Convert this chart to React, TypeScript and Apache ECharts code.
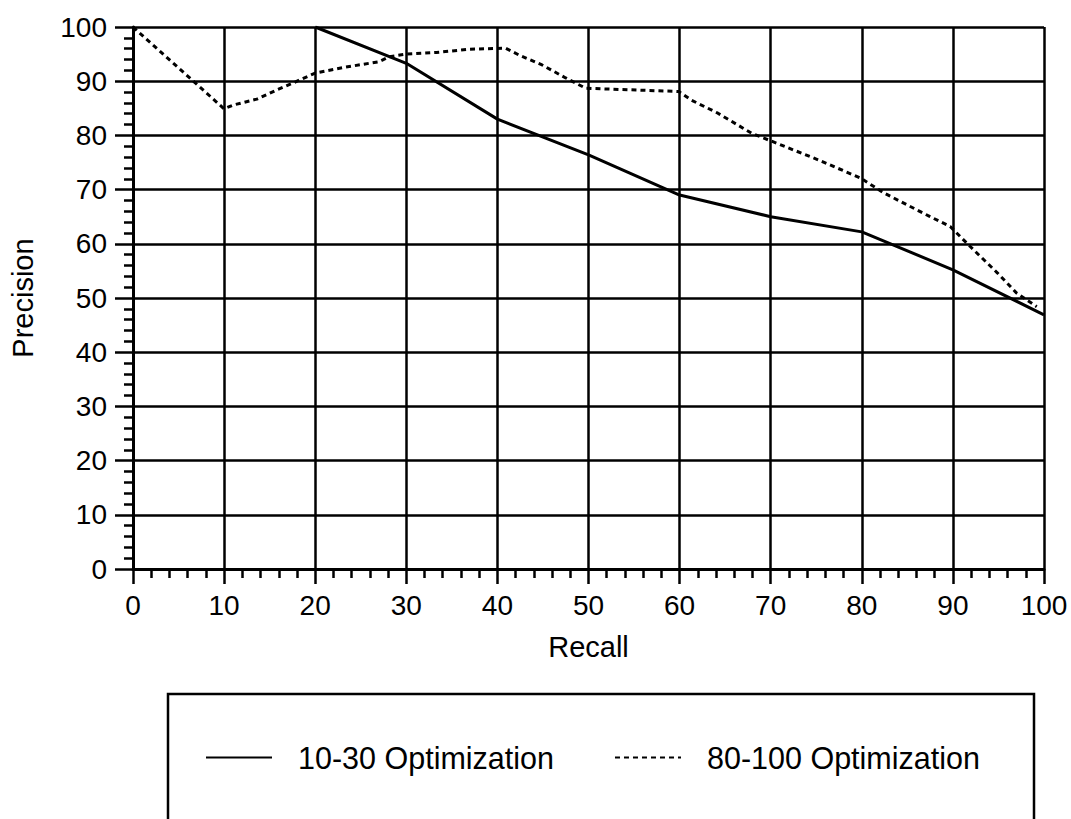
import React, { useEffect, useRef } from "react";
import * as echarts from "echarts";

const seriesNames = ["10-30 Optimization", "80-100 Optimization"];

// Recall (x), Precision (y)
const recall1030 = [20, 30, 40, 50, 60, 70, 80, 90, 100];
const precision1030 = [100, 93.3, 83, 76.4, 69, 65, 62.2, 55.2, 46.9];

const recall80100 = [
  0, 10, 11, 13.6, 15.8, 17.6, 20, 23, 27, 28.1, 30, 33.3, 36.9, 40.9, 42.4,
  44.9, 47.5, 49.7, 59.9, 61.3, 64.2, 67.9, 69.7, 75.2, 79.9, 82.4, 87.5,
  89.7, 91.9, 94.9, 97, 99.2,
];
const precision80100 = [
  100, 84.9, 85.6, 86.7, 88.4, 89.7, 91.5, 92.5, 93.6, 94.5, 95.0, 95.3, 95.9,
  96.1, 94.8, 93.0, 90.6, 88.7, 88.1, 86.5, 84.1, 80.4, 79.2, 75.5, 72.1, 69.4,
  65.0, 63.2, 59.5, 54.6, 50.9, 48.4,
];

const xTicks = { min: 0, max: 100, interval: 10 };
const yTicks = { min: 0, max: 100, interval: 10 };

const FONT = "'Liberation Sans', Arial, Helvetica, sans-serif";

export default function App() {
  const ref = useRef<HTMLDivElement>(null);

  useEffect(() => {
    if (!ref.current) return;
    const chart = echarts.init(ref.current, undefined, { renderer: "svg" });
    const axisCommon = {
      type: "value" as const,
      axisLine: { show: true, lineStyle: { color: "#000", width: 3 } },
      splitLine: { show: true, lineStyle: { color: "#000", width: 2.5 } },
      minorTick: { show: true, splitNumber: 5, length: 9, lineStyle: { color: "#000", width: 2.5 } },
      minorSplitLine: { show: false },
    };
    chart.setOption({
      animation: false,
      backgroundColor: "#fff",
      textStyle: { fontFamily: FONT, color: "#000" },
      grid: { left: 129, top: 27, width: 915, height: 542, containLabel: false },
      xAxis: {
        ...axisCommon,
        min: xTicks.min,
        max: xTicks.max,
        interval: xTicks.interval,
        axisTick: { show: true, inside: false, length: 15, lineStyle: { color: "#000", width: 2.5 } },
        axisLabel: { fontSize: 28, color: "#000", margin: 22, fontFamily: FONT },
        name: "Recall",
        nameLocation: "middle",
        nameGap: 63,
        nameTextStyle: { fontSize: 29, color: "#000", fontFamily: FONT },
      },
      yAxis: {
        ...axisCommon,
        min: yTicks.min,
        max: yTicks.max,
        interval: yTicks.interval,
        axisTick: { show: true, inside: false, length: 18, lineStyle: { color: "#000", width: 2.5 } },
        axisLabel: { fontSize: 28, color: "#000", margin: 26, fontFamily: FONT },
        name: "Precision",
        nameLocation: "middle",
        nameRotate: 90,
        nameGap: 96,
        nameTextStyle: { fontSize: 29, color: "#000", fontFamily: FONT },
      },
      legend: {
        show: true,
        left: 205,
        top: 742,
        padding: 0,
        itemWidth: 66,
        itemHeight: 14,
        itemGap: 60,
        data: seriesNames,
        itemStyle: { opacity: 0 },
        textStyle: { fontSize: 30.5, color: "#000", fontFamily: FONT, padding: [0, 0, 0, 21] },
      },
      graphic: [
        {
          type: "rect",
          shape: { x: 168, y: 694, width: 866, height: 200 },
          style: { fill: "none", stroke: "#000", lineWidth: 2.5 },
          silent: true,
        },
      ],
      series: [
        {
          name: seriesNames[0],
          type: "line",
          symbol: "none",
          data: recall1030.map((x, i) => [x, precision1030[i]]),
          lineStyle: { color: "#000", width: 3, type: "solid" },
          itemStyle: { color: "#000" },
        },
        {
          name: seriesNames[1],
          type: "line",
          symbol: "none",
          data: recall80100.map((x, i) => [x, precision80100[i]]),
          lineStyle: { color: "#000", width: 3, type: [5, 4] },
          itemStyle: { color: "#000" },
        },
      ],
    });
    return () => chart.dispose();
  }, []);

  return (
    <div
      ref={ref}
      style={{ position: "absolute", left: 0, top: 0, width: 1071, height: 819 }}
    />
  );
}
